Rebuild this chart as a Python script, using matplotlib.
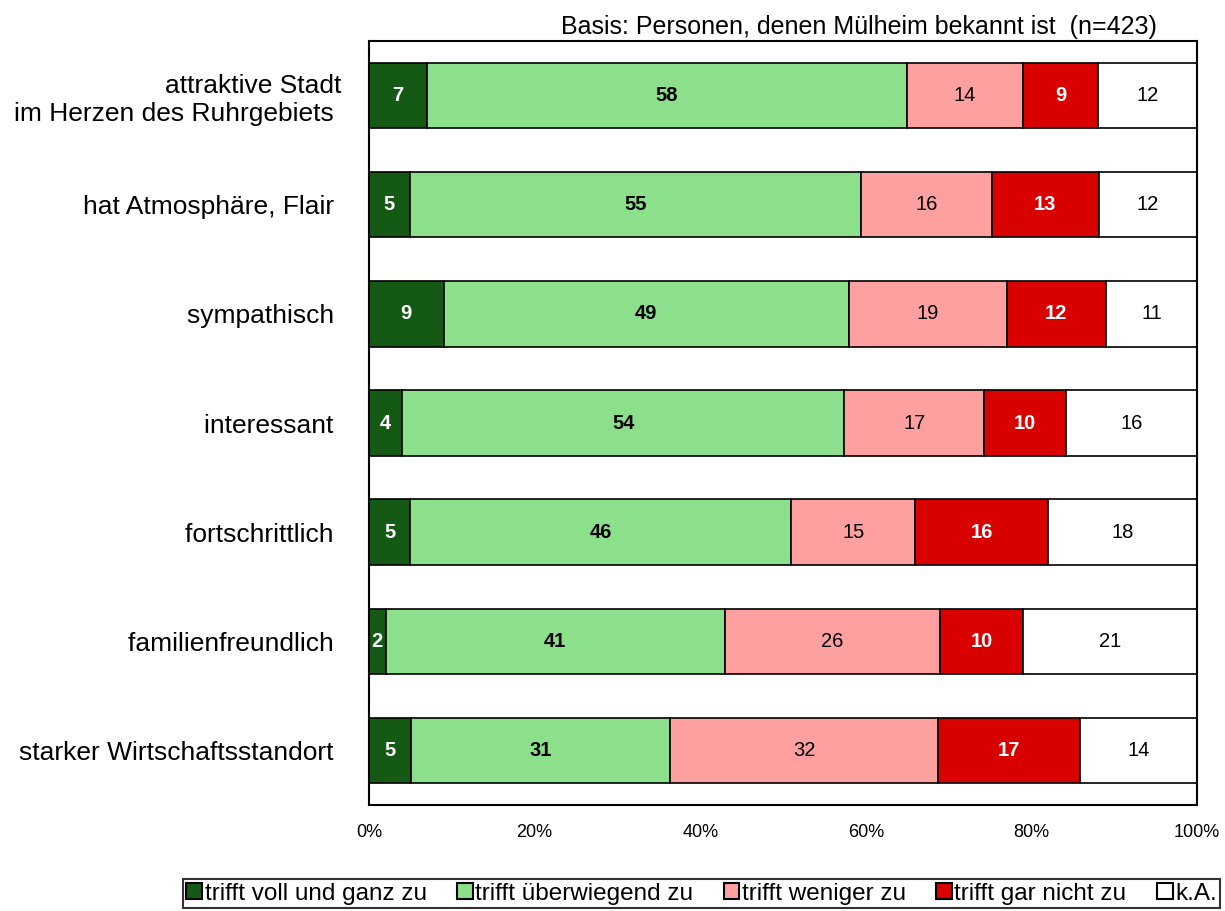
import matplotlib
matplotlib.use("Agg")
import matplotlib.pyplot as plt
from matplotlib.patches import Patch

plt.rcParams['font.family'] = ['Liberation Sans', 'DejaVu Sans']

categories = [
    "attraktive Stadt\nim Herzen des Ruhrgebiets ",
    "hat Atmosphäre, Flair ",
    "sympathisch ",
    "interessant ",
    "fortschrittlich ",
    "familienfreundlich ",
    "starker Wirtschaftsstandort ",
]
series_names = ["trifft voll und ganz zu", "trifft überwiegend zu",
                "trifft weniger zu", "trifft gar nicht zu", "k.A."]
voll = [7, 5, 9, 4, 5, 2, 5]
ueberwiegend = [58, 55, 49, 54, 46, 41, 31]
weniger = [14, 16, 19, 17, 15, 26, 32]
gar_nicht = [9, 13, 12, 10, 16, 10, 17]
ka = [12, 12, 11, 16, 18, 21, 14]
tick_labels = ["0%", "20%", "40%", "60%", "80%", "100%"]
title = "Basis: Personen, denen Mülheim bekannt ist  (n=423)"

series = [voll, ueberwiegend, weniger, gar_nicht, ka]
colors = ["#145a14", "#8ce08c", "#ffa0a0", "#d90000", "#ffffff"]
text_colors = ["white", "black", "black", "white", "black"]
text_weights = ["bold", "bold", "normal", "bold", "normal"]

fig = plt.figure(figsize=(12.25, 9.11), dpi=100)
ax = fig.add_axes([369 / 1225, 1 - 805 / 911, (1197 - 369) / 1225, (805 - 41) / 911])

n = len(categories)
ypos = list(range(n))
totals = [sum(s[i] for s in series) for i in range(n)]
left = [0.0] * n
for k, s in enumerate(series):
    widths = [s[i] / totals[i] * 100 for i in range(n)]
    ax.barh(ypos, widths, left=left, height=0.6, color=colors[k],
            edgecolor="black", linewidth=1.2, zorder=2)
    for i in range(n):
        ax.text(left[i] + widths[i] / 2, ypos[i], str(s[i]),
                ha="center", va="center", fontsize=14.5,
                color=text_colors[k], fontweight=text_weights[k], zorder=3)
    left = [left[i] + widths[i] for i in range(n)]

ax.set_xlim(0, 100)
ax.set_ylim(n - 0.5, -0.5)
ax.set_xticks([0, 20, 40, 60, 80, 100])
ax.set_xticklabels(tick_labels, fontsize=13)
ax.set_yticks(ypos)
ax.set_yticklabels(categories, fontsize=19, multialignment="right")
ax.tick_params(axis="both", length=0)
ax.tick_params(axis="x", pad=14)
ax.tick_params(axis="y", pad=20)
for sp in ax.spines.values():
    sp.set_linewidth(1.5)
    sp.set_color("black")

fig.text(1157 / 1225, 1 - 27 / 911, title, ha="right", va="center", fontsize=18)

handles = [Patch(facecolor=c, edgecolor="black", linewidth=1.5) for c in colors]
leg = fig.legend(handles, series_names, loc="upper center",
                 bbox_to_anchor=(701.5 / 1225, 1 - 879 / 911), ncol=5,
                 fontsize=17.5, frameon=True, fancybox=False,
                 handlelength=0.65, handleheight=0.65, handletextpad=0.1,
                 columnspacing=1.25, borderpad=0.15, borderaxespad=0)
leg.get_frame().set_edgecolor("black")
leg.get_frame().set_linewidth(1.5)

fig.savefig("out.png", dpi=100)
